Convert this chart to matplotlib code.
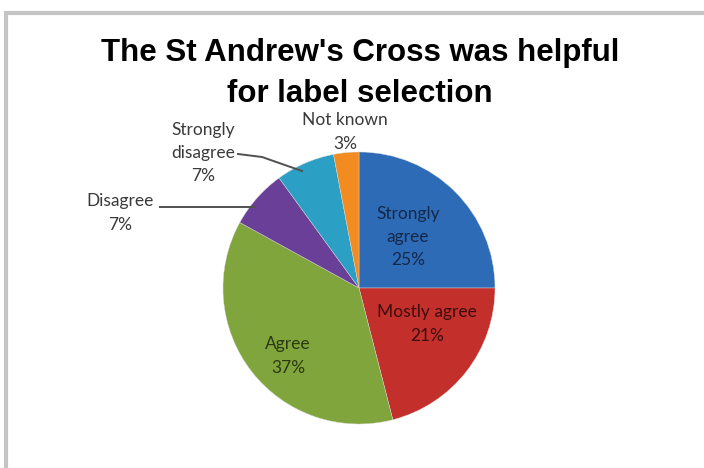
#pie chart - St Andrew's Cross survey
import matplotlib.pyplot as plt
from matplotlib.patches import Rectangle

#data
labels = ["Strongly\nagree", "Mostly agree", "Agree", "Disagree", "Strongly\ndisagree", "Not known"]
shares = [25, 21, 37, 7, 7, 3]
colours = ["#2e6bb6", "#c3302c", "#7fa53c", "#6a3f98", "#2c9fc5", "#f28b20"]
text_cols = ["#14284a", "#3e0c0c", "#2b3a12", "#3a3a3a", "#3a3a3a", "#3a3a3a"]

W, H = 704, 468
fig = plt.figure(figsize=(W / 100, H / 100), dpi=100)
ax = fig.add_axes([0, 0, 1, 1])

def py(y):
    return H - y  # pixel row -> data y

cx, cy, r = 359, py(288), 136
wedges, _ = ax.pie(shares, colors=colours, startangle=90, counterclock=False,
                   center=(cx, cy), radius=r, frame=True,
                   wedgeprops=dict(linewidth=0.3, edgecolor="#d8d8d8"))
ax.set_xlim(0, W)
ax.set_ylim(0, H)
ax.set_aspect('equal')
ax.axis('off')

#frame
ax.add_patch(Rectangle((5.5, -20), W + 20, py(12.5) + 20, fill=False,
                       edgecolor="#c4c4c4", linewidth=3))

#title
ax.text(360, py(61), "The St Andrew's Cross was helpful", ha='center', va='baseline',
        fontsize=22.5, fontweight='bold', family='Liberation Sans')
ax.text(360, py(102), "for label selection", ha='center', va='baseline',
        fontsize=22.5, fontweight='bold', family='Liberation Sans')

lab_font = dict(family='Lato', fontsize=12.5, ha='center', va='center', linespacing=1.55)

#inside labels
pos = {0: (408, 237), 1: (427, 324), 2: (288, 356)}
for i, (x, y) in pos.items():
    ax.text(x, py(y), f"{labels[i]}\n{shares[i]}%", color=text_cols[i], **lab_font)

#outside labels with leaders
ax.text(120, py(213), f"{labels[3]}\n{shares[3]}%", color=text_cols[3], **lab_font)
ax.plot([160, 255], [py(207), py(207)], color="#505050", lw=1.4)

ax.text(203, py(153), f"{labels[4]}\n{shares[4]}%", color=text_cols[4], **lab_font)
ax.plot([238, 262, 302], [py(154), py(157), py(171)], color="#505050", lw=1.4)

ax.text(345, py(132), f"{labels[5]}\n{shares[5]}%", color=text_cols[5], **lab_font)

fig.savefig("out.png", dpi=100)
